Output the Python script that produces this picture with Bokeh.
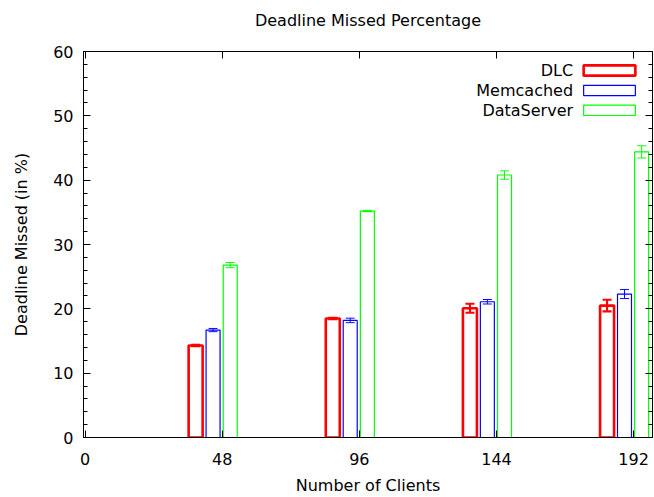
from bokeh.plotting import figure
from bokeh.models import (ColumnDataSource, Range1d, LinearAxis, FixedTicker,
                          Whisker, TeeHead, Label, BoxAnnotation)
from bokeh.transform import dodge
from bokeh.embed import file_html
from bokeh.resources import INLINE

# ---- data ----
clients = [48, 96, 144, 192]
dlc = [14.3, 18.5, 20.1, 20.5]
dlc_err = [0.1, 0.12, 0.7, 0.9]
memcached = [16.7, 18.2, 21.1, 22.3]
memcached_err = [0.25, 0.35, 0.35, 0.7]
dataserver = [26.8, 35.2, 40.8, 44.4]
dataserver_err = [0.4, 0.1, 0.65, 0.95]
series_names = ["DLC", "Memcached", "DataServer"]
x_ticks = [0, 48, 96, 144, 192]
y_ticks = [0, 10, 20, 30, 40, 50, 60]
y_minor = list(range(0, 61, 2))

FONT = "DejaVu Sans"
FS = "16px"
colors = ["#ff0000", "#0000ff", "#00ff00"]
widths = [2.6, 1.2, 1.2]
offsets = [-9.3, -3.2, 2.8]
bar_w = 4.9

p = figure(width=654, height=497, output_backend="svg", toolbar_location=None,
           x_range=Range1d(-0.55, 198.6), y_range=Range1d(0, 60),
           min_border_left=83, min_border_right=2, min_border_top=51,
           min_border_bottom=59, title="Deadline Missed Percentage")
p.title.align = "center"
p.title.vertical_align = "bottom"
p.title.text_font = FONT
p.title.text_font_size = FS
p.title.text_font_style = "normal"
p.title.text_color = "black"
p.title.standoff = 0
p.title.padding = dict(left=0, right=0, top=0, bottom=22)
p.grid.visible = False
p.outline_line_color = "black"
p.outline_line_width = 1
p.background_fill_color = "white"
p.border_fill_color = "white"

# axes
xa = p.xaxis[0]
xa.ticker = FixedTicker(ticks=x_ticks)
xa.axis_label = "Number of Clients"
ya = p.yaxis[0]
ya.ticker = FixedTicker(ticks=y_ticks, minor_ticks=y_minor)
ya.axis_label = "Deadline Missed (in %)"
for ax in (xa, ya):
    ax.major_tick_in = 7
    ax.major_tick_out = 0
    ax.minor_tick_in = 4
    ax.minor_tick_out = 0
    ax.axis_line_color = "black"
    ax.major_label_text_font = FONT
    ax.major_label_text_font_size = FS
    ax.major_label_text_color = "black"
    ax.axis_label_text_font = FONT
    ax.axis_label_text_font_size = FS
    ax.axis_label_text_font_style = "normal"
    ax.axis_label_text_color = "black"
xa.minor_tick_line_color = None
xa.major_label_standoff = 15
xa.axis_label_standoff = 8
ya.major_label_standoff = 10
ya.axis_label_standoff = 19

top = LinearAxis(ticker=FixedTicker(ticks=x_ticks), major_tick_in=7, major_tick_out=0,
                 minor_tick_line_color=None, major_label_text_font_size="1px",
                 major_label_text_color=None, major_label_standoff=0)
right = LinearAxis(ticker=FixedTicker(ticks=y_ticks, minor_ticks=y_minor),
                   major_tick_in=7, major_tick_out=0, minor_tick_in=4, minor_tick_out=0,
                   major_label_text_font_size="1px", major_label_text_color=None,
                   major_label_standoff=0)
p.add_layout(top, "above")
p.add_layout(right, "right")

src = ColumnDataSource(dict(
    clients=clients,
    dlc=dlc, dlc_lo=[v - e for v, e in zip(dlc, dlc_err)], dlc_hi=[v + e for v, e in zip(dlc, dlc_err)],
    mem=memcached, mem_lo=[v - e for v, e in zip(memcached, memcached_err)],
    mem_hi=[v + e for v, e in zip(memcached, memcached_err)],
    ds=dataserver, ds_lo=[v - e for v, e in zip(dataserver, dataserver_err)],
    ds_hi=[v + e for v, e in zip(dataserver, dataserver_err)],
))

keys = ["dlc", "mem", "ds"]
for k, c, lw, off in zip(keys, colors, widths, offsets):
    xs = dodge("clients", off, range=p.x_range)
    p.vbar(x=xs, top=k, width=bar_w, bottom=0, source=src, fill_color=None,
           line_color=c, line_width=lw)
    w = Whisker(base=xs, upper=k + "_hi", lower=k + "_lo", source=src,
                line_color=c, line_width=lw * 0.8,
                upper_head=TeeHead(size=9, line_color=c, line_width=lw * 0.8),
                lower_head=TeeHead(size=9, line_color=c, line_width=lw * 0.8))
    p.add_layout(w)

# legend (gnuplot style: text then sample box)
legend_y = [57.05, 53.95, 50.85]
for name, c, lw, ly in zip(series_names, colors, widths, legend_y):
    p.add_layout(Label(x=170.8, y=ly, text=name, text_align="right",
                       text_baseline="middle", text_font=FONT, text_font_size=FS,
                       text_color="black"))
    p.add_layout(BoxAnnotation(left=174.5, right=192.6, bottom=ly - 0.8, top=ly + 0.8,
                               fill_color=None, fill_alpha=0, line_color=c, line_width=lw,
                               line_alpha=1))

open("out.html", "w").write(file_html(p, INLINE))
